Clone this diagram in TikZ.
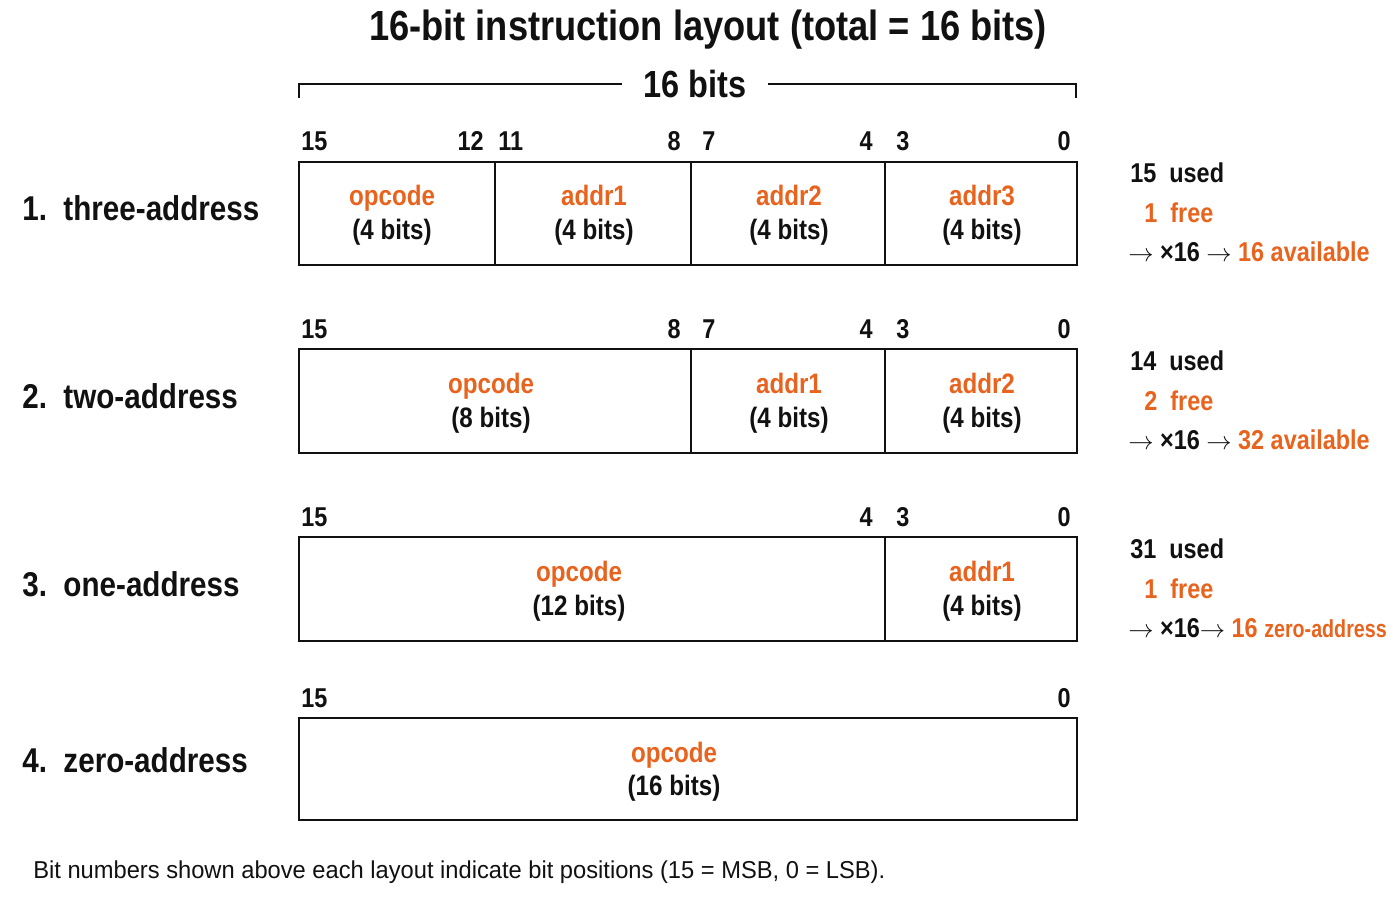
\documentclass[tikz,border=0pt]{standalone}
\usepackage{fontspec}
\setmainfont{Liberation Sans}[FakeStretch=0.86]
\newfontfamily\footfont{Liberation Sans}[FakeStretch=0.97]
\definecolor{orng}{HTML}{E8641E}
\definecolor{ink}{HTML}{111111}
\newcommand{\rarr}{$\rightarrow$}
\begin{document}
\begin{tikzpicture}[x=0.02cm,y=-0.02cm,
  fieldbox/.style={draw=ink,line width=1.6pt},
  bitnum/.style={font=\fontsize{15.5}{18}\selectfont\bfseries,text=ink,inner sep=0pt},
  rowlabel/.style={font=\fontsize{19.6}{23}\selectfont\bfseries,text=ink,anchor=west,inner sep=0pt},
  fieldtxt/.style={font=\fontsize{16}{19}\selectfont\bfseries,inner sep=0pt,anchor=base},
  note/.style={font=\fontsize{15.5}{18}\selectfont\bfseries,anchor=west,inner sep=0pt,text=ink}]
\useasboundingbox (0,0) rectangle (1400,900);
\fill[white] (0,0) rectangle (1400,900);
% title
\node[font=\fontsize{24}{28}\selectfont\bfseries,text=ink] (title) at (708,30) {16-bit instruction layout (total = 16 bits)};
% bracket
\node[font=\fontsize{21.5}{25}\selectfont\bfseries,text=ink,inner sep=0pt] (sixteen) at (695,84) {16 bits};
\coordinate (bl) at (299,98);
\coordinate (blt) at (299,84);
\coordinate (br) at (1076,98);
\coordinate (brt) at (1076,84);
\draw[ink,line width=1.3pt] (bl) -- (blt) -- ([xshift=-12]sixteen.west);
\draw[ink,line width=1.3pt] (br) -- (brt) -- ([xshift=12]sixteen.east);

% row 1
\draw[fieldbox] (299,162) rectangle (1077,265);
\draw[fieldbox] (495,162) -- (495,265) (691,162) -- (691,265) (885,162) -- (885,265);
\node[bitnum,anchor=west] (r1b15) at (301,141) {15};
\node[bitnum,anchor=east] (r1b12) at (484,141) {12};
\node[bitnum,anchor=west] (r1b11) at (498,141) {11};
\node[bitnum,anchor=east] (r1b8) at (681,141) {8};
\node[bitnum,anchor=west] (r1b7) at (702,141) {7};
\node[bitnum,anchor=east] (r1b4) at (873,141) {4};
\node[bitnum,anchor=west] (r1b3) at (896,141) {3};
\node[bitnum,anchor=east] (r1b0) at (1071,141) {0};
\node[rowlabel] (l1) at (22,208) {1.\ \ three-address};
\node[fieldtxt,text=orng] (f11a) at (392,205) {opcode};
\node[fieldtxt,text=ink] (f11b) at (392,239) {(4 bits)};
\node[fieldtxt,text=orng] (f12a) at (594,205) {addr1};
\node[fieldtxt,text=ink] (f12b) at (594,239) {(4 bits)};
\node[fieldtxt,text=orng] (f13a) at (789,205) {addr2};
\node[fieldtxt,text=ink] (f13b) at (789,239) {(4 bits)};
\node[fieldtxt,text=orng] (f14a) at (982,205) {addr3};
\node[fieldtxt,text=ink] (f14b) at (982,239) {(4 bits)};
\node[note] (n1a) at (1130,173) {15\ \ used};
\node[note,text=orng] (n1b) at (1144,213) {1\ \ free};
\node[note] (n1c) at (1128,252) {\rarr{} ×16 \rarr{} \textcolor{orng}{16 available}};

% row 2
\draw[fieldbox] (299,349) rectangle (1077,453);
\draw[fieldbox] (691,349) -- (691,453) (885,349) -- (885,453);
\node[bitnum,anchor=west] (r2b15) at (301,329) {15};
\node[bitnum,anchor=east] (r2b8) at (681,329) {8};
\node[bitnum,anchor=west] (r2b7) at (702,329) {7};
\node[bitnum,anchor=east] (r2b4) at (873,329) {4};
\node[bitnum,anchor=west] (r2b3) at (896,329) {3};
\node[bitnum,anchor=east] (r2b0) at (1071,329) {0};
\node[rowlabel] (l2) at (22,396) {2.\ \ two-address};
\node[fieldtxt,text=orng] (f21a) at (491,393) {opcode};
\node[fieldtxt,text=ink] (f21b) at (491,427) {(8 bits)};
\node[fieldtxt,text=orng] (f22a) at (789,393) {addr1};
\node[fieldtxt,text=ink] (f22b) at (789,427) {(4 bits)};
\node[fieldtxt,text=orng] (f23a) at (982,393) {addr2};
\node[fieldtxt,text=ink] (f23b) at (982,427) {(4 bits)};
\node[note] (n2a) at (1130,361) {14\ \ used};
\node[note,text=orng] (n2b) at (1144,401) {2\ \ free};
\node[note] (n2c) at (1128,440) {\rarr{} ×16 \rarr{} \textcolor{orng}{32 available}};

% row 3
\draw[fieldbox] (299,537) rectangle (1077,641);
\draw[fieldbox] (885,537) -- (885,641);
\node[bitnum,anchor=west] (r3b15) at (301,517) {15};
\node[bitnum,anchor=east] (r3b4) at (873,517) {4};
\node[bitnum,anchor=west] (r3b3) at (896,517) {3};
\node[bitnum,anchor=east] (r3b0) at (1071,517) {0};
\node[rowlabel] (l3) at (22,584) {3.\ \ one-address};
\node[fieldtxt,text=orng] (f31a) at (579,581) {opcode};
\node[fieldtxt,text=ink] (f31b) at (579,615) {(12 bits)};
\node[fieldtxt,text=orng] (f32a) at (982,581) {addr1};
\node[fieldtxt,text=ink] (f32b) at (982,615) {(4 bits)};
\node[note] (n3a) at (1130,549) {31\ \ used};
\node[note,text=orng] (n3b) at (1144,589) {1\ \ free};
\node[note] (n3c) at (1128,628) {\rarr{} ×16\rarr{} \textcolor{orng}{16 {\addfontfeature{FakeStretch=0.8}\fontsize{14}{17}\selectfont zero-address}}};

% row 4
\draw[fieldbox] (299,718) rectangle (1077,820);
\node[bitnum,anchor=west] (r4b15) at (301,698) {15};
\node[bitnum,anchor=east] (r4b0) at (1071,698) {0};
\node[rowlabel] (l4) at (22,760) {4.\ \ zero-address};
\node[fieldtxt,text=orng] (f41a) at (674,762) {opcode};
\node[fieldtxt,text=ink] (f41b) at (674,795) {(16 bits)};

% footnote
\node[font=\footfont\fontsize{13.9}{16}\selectfont,text=ink,anchor=west,inner sep=0pt] (foot) at (33,872) {Bit numbers shown above each layout indicate bit positions (15 = MSB, 0 = LSB).};
\end{tikzpicture}
\end{document}
